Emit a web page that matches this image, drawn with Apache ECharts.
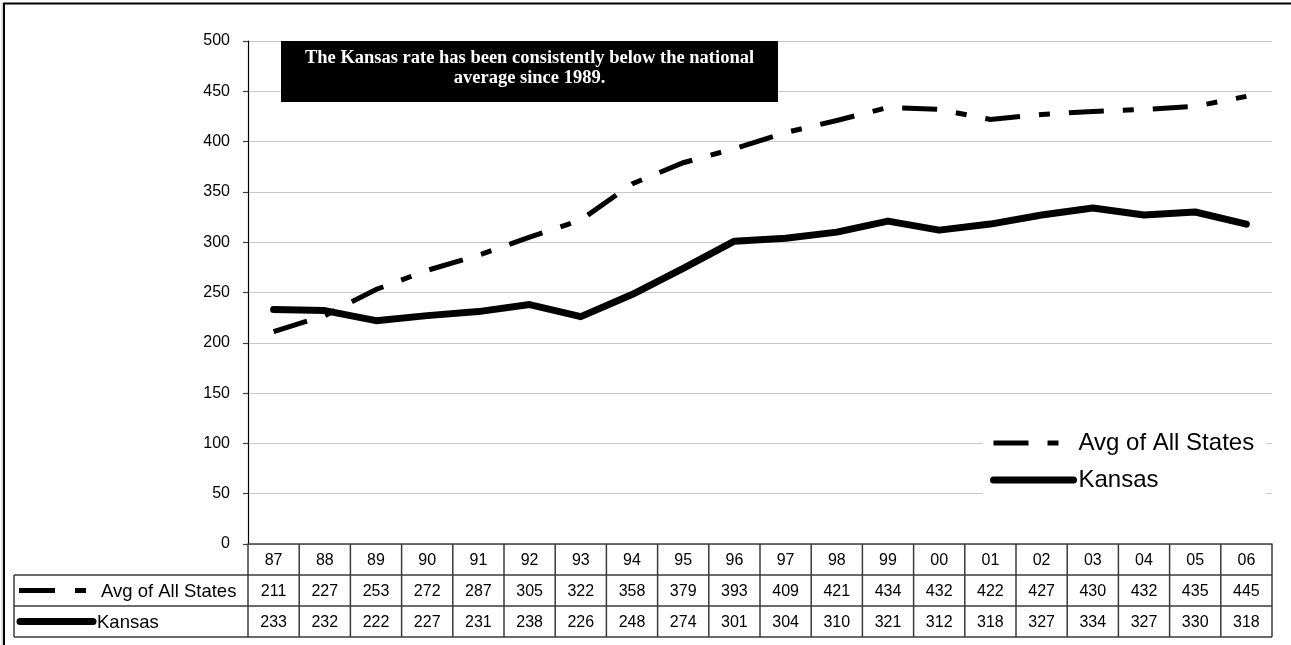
<!DOCTYPE html>
<html>
<head>
<meta charset="utf-8">
<script src="https://cdn.jsdelivr.net/npm/echarts@6/dist/echarts.min.js"></script>
<style>
  html, body { margin: 0; padding: 0; background: #fff; }
  #chart { width: 1291px; height: 645px; }
</style>
</head>
<body>
<div id="chart"></div>
<script>
// Year labels (two-digit) and rates per series
const years = ['87','88','89','90','91','92','93','94','95','96','97','98','99','00','01','02','03','04','05','06'];
const avgAllStates = [211,227,253,272,287,305,322,358,379,393,409,421,434,432,422,427,430,432,435,445];
const kansas = [233,232,222,227,231,238,226,248,274,301,304,310,321,312,318,327,334,327,330,318];
const seriesNames = ['Avg of All States', 'Kansas'];
const yMin = 0, yMax = 500, yStep = 50;
const noteText = 'The Kansas rate has been consistently below the national\naverage since 1989.';

const SANS = '"Liberation Sans", Arial, Helvetica, sans-serif';
const SERIF = '"Liberation Serif", "Times New Roman", serif';
const avgDash = [35, 19, 11, 19];

const chart = echarts.init(document.getElementById('chart'), null, { renderer: 'canvas' });

chart.setOption({
  animation: false,
  backgroundColor: '#fff',
  grid: { left: 248, right: 19, top: 41, bottom: 101, containLabel: false },
  xAxis: {
    type: 'category',
    data: years,
    boundaryGap: true,
    axisLine: { show: true, lineStyle: { color: '#404040', width: 1.5 } },
    axisTick: { show: false },
    axisLabel: { show: false },
    splitLine: { show: false }
  },
  yAxis: {
    type: 'value',
    min: yMin,
    max: yMax,
    interval: yStep,
    axisLine: { show: true, lineStyle: { color: '#000', width: 1.2 } },
    axisTick: { show: true, length: 5, lineStyle: { color: '#404040', width: 1.2 } },
    axisLabel: { color: '#000', fontSize: 16, fontFamily: SANS, margin: 18 },
    splitLine: { show: true, lineStyle: { color: '#c8c8c8', width: 1 } }
  },
  legend: {
    orient: 'vertical',
    left: 983,
    top: 425,
    padding: [6, 12, 8, 7],
    backgroundColor: '#fff',
    itemWidth: 80,
    itemHeight: 24,
    itemGap: 13,
    itemStyle: { opacity: 0 },
    textStyle: { color: '#000', fontSize: 24, lineHeight: 24, fontFamily: SANS },
    data: [
      { name: seriesNames[0], lineStyle: { width: 5, type: avgDash, cap: 'butt' } },
      { name: seriesNames[1], lineStyle: { width: 7, type: 'solid', cap: 'round' } }
    ],
    z: 5
  },
  series: [
    {
      name: seriesNames[0],
      type: 'line',
      data: avgAllStates,
      symbol: 'none',
      lineStyle: { color: '#000', width: 5, type: avgDash, cap: 'butt', join: 'miter' },
      itemStyle: { color: '#000' },
      z: 2
    },
    {
      name: seriesNames[1],
      type: 'line',
      data: kansas,
      symbol: 'none',
      lineStyle: { color: '#000', width: 7, type: 'solid', cap: 'round', join: 'round' },
      itemStyle: { color: '#000' },
      z: 3
    }
  ]
});

// Data table under the plot, aligned to the category bands of the x axis
function buildTable() {
  const centers = years.map((_, i) => chart.convertToPixel({ xAxisIndex: 0 }, i));
  const band = centers[1] - centers[0];
  const leftEdge = centers[0] - band / 2;
  const rightEdge = centers[centers.length - 1] + band / 2;
  const axisY = chart.convertToPixel({ yAxisIndex: 0 }, yMin);
  const rowH = 31;
  const rows = [axisY, axisY + rowH, axisY + 2 * rowH, axisY + 3 * rowH];
  const labelLeft = 14;
  const lineColor = '#3a3a3a';
  const els = [];

  const hLine = (x1, x2, y) => els.push({ type: 'line', shape: { x1, y1: y, x2, y2: y }, style: { stroke: lineColor, lineWidth: 1.5 }, silent: true, z: 10 });
  const vLine = (x, y1, y2) => els.push({ type: 'line', shape: { x1: x, y1, x2: x, y2 }, style: { stroke: lineColor, lineWidth: 1.5 }, silent: true, z: 10 });
  const cellText = (text, x, y, size, align) => els.push({
    type: 'text', x, y, silent: true, z: 11,
    style: { text, fill: '#000', font: size + 'px ' + SANS, align: align || 'center', verticalAlign: 'middle' }
  });

  // grid lines of the table
  hLine(labelLeft, rightEdge, rows[1]);
  hLine(labelLeft, rightEdge, rows[2]);
  hLine(labelLeft, rightEdge, rows[3]);
  vLine(labelLeft, rows[1], rows[3]);
  for (let i = 0; i <= years.length; i++) {
    vLine(leftEdge + i * band, rows[0], rows[3]);
  }

  // header and value cells
  years.forEach((y, i) => {
    cellText(y, centers[i], (rows[0] + rows[1]) / 2 + 1, 16);
    cellText(String(avgAllStates[i]), centers[i], (rows[1] + rows[2]) / 2 + 1, 16);
    cellText(String(kansas[i]), centers[i], (rows[2] + rows[3]) / 2 + 1, 16);
  });

  // row legend keys and names
  const avgY = (rows[1] + rows[2]) / 2;
  const ksY = (rows[2] + rows[3]) / 2;
  els.push({ type: 'line', shape: { x1: 19, y1: avgY, x2: 86, y2: avgY },
    style: { stroke: '#000', lineWidth: 5, lineDash: [36, 20, 11, 60], lineCap: 'butt' }, silent: true, z: 11 });
  els.push({ type: 'line', shape: { x1: 20, y1: ksY, x2: 93, y2: ksY },
    style: { stroke: '#000', lineWidth: 7, lineCap: 'round' }, silent: true, z: 11 });
  cellText(seriesNames[0], 101, avgY + 1, 18.5, 'left');
  cellText(seriesNames[1], 97, ksY + 1, 18.5, 'left');

  // note box
  els.push({ type: 'rect', shape: { x: 281, y: 41, width: 497, height: 61 }, style: { fill: '#000' }, silent: true, z: 20 });
  els.push({ type: 'text', x: 529.5, y: 68, silent: true, z: 21,
    style: { text: noteText, fill: '#fff', font: 'bold 18.5px ' + SERIF, align: 'center', verticalAlign: 'middle', lineHeight: 20 } });

  // outer frame
  els.push({ type: 'line', shape: { x1: 2, y1: 3, x2: 2, y2: 645 }, style: { stroke: '#bdbdbd', lineWidth: 1 }, silent: true, z: 30 });
  els.push({ type: 'line', shape: { x1: 3, y1: 3.5, x2: 1291, y2: 3.5 }, style: { stroke: '#000', lineWidth: 2 }, silent: true, z: 30 });
  els.push({ type: 'line', shape: { x1: 4, y1: 3, x2: 4, y2: 645 }, style: { stroke: '#000', lineWidth: 2 }, silent: true, z: 30 });

  chart.setOption({ graphic: els });
}
buildTable();
</script>
</body>
</html>
